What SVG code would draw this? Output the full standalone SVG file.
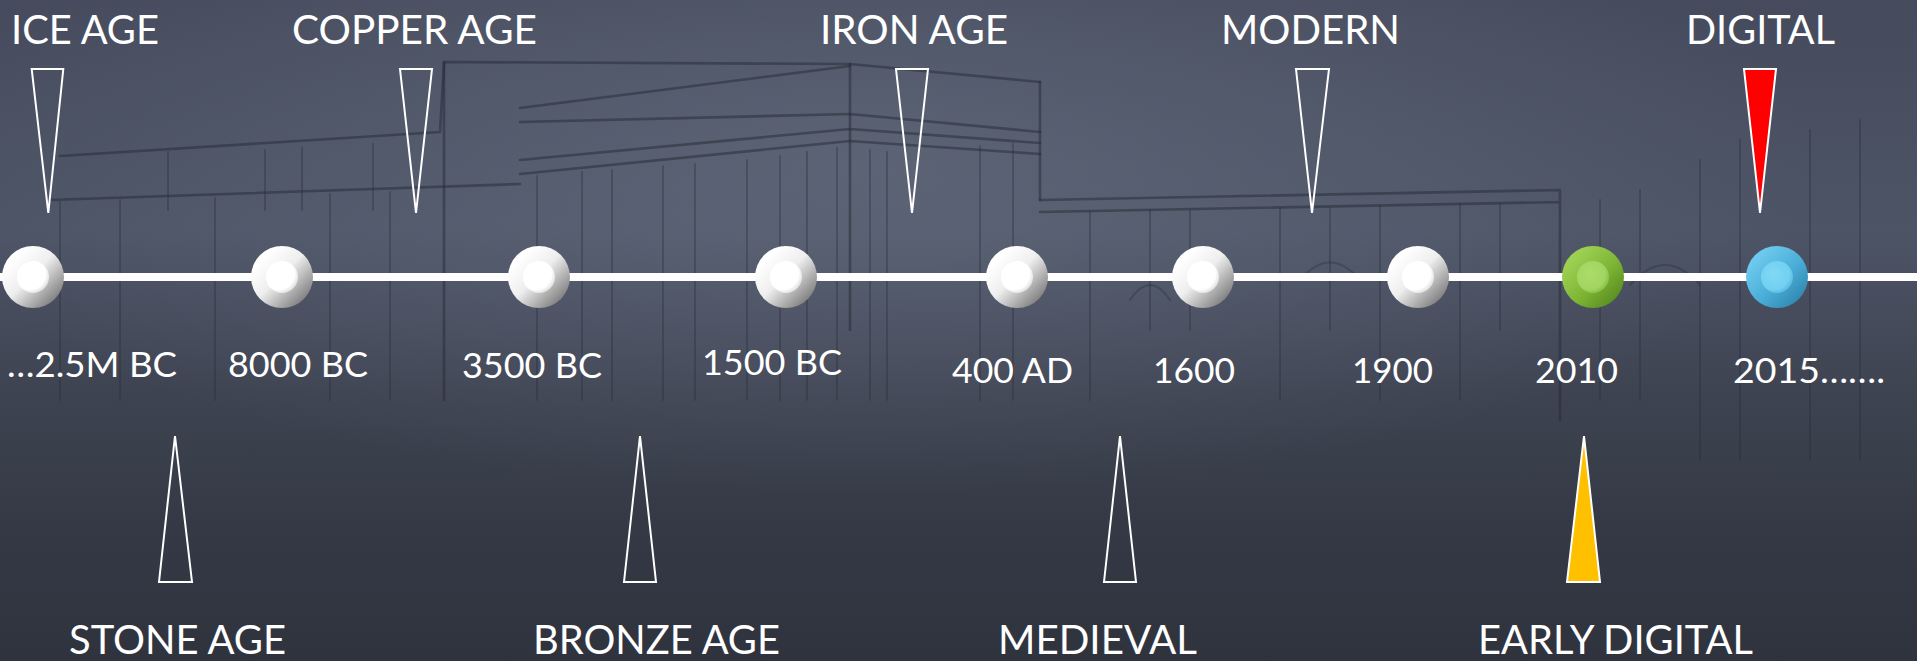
<svg xmlns="http://www.w3.org/2000/svg" width="1917" height="661" viewBox="0 0 1917 661">
<defs>
<style>
.lbl{font-family:Lato,"Open Sans","Liberation Sans",sans-serif;fill:#ffffff}
.era{font-size:40.5px}
.yr{font-size:35px}
.tri{fill:none;stroke:#ffffff;stroke-width:2;stroke-linejoin:miter}
.sk{fill:none;stroke:#252934;stroke-width:2.6;stroke-opacity:0.5;stroke-linecap:round;stroke-linejoin:round}
.skl{fill:none;stroke:#252934;stroke-width:2;stroke-opacity:0.33;stroke-linecap:round}
</style>
<linearGradient id="bg" x1="0" y1="0" x2="0" y2="1">
<stop offset="0" stop-color="#454b5c"/>
<stop offset="0.35" stop-color="#4d5466"/>
<stop offset="0.6" stop-color="#3e4351"/>
<stop offset="0.8" stop-color="#343945"/>
<stop offset="1" stop-color="#2f333e"/>
</linearGradient>
<radialGradient id="glow" cx="0.45" cy="0.25" r="0.5">
<stop offset="0" stop-color="#6d7588" stop-opacity="0.5"/>
<stop offset="1" stop-color="#6d7588" stop-opacity="0"/>
</radialGradient>
<linearGradient id="ringW" x1="0.25" y1="0.15" x2="0.95" y2="0.85">
<stop offset="0" stop-color="#ffffff"/>
<stop offset="0.4" stop-color="#eeeeee"/>
<stop offset="1" stop-color="#767676"/>
</linearGradient>
<radialGradient id="innW" cx="0.4" cy="0.4" r="0.65">
<stop offset="0" stop-color="#ffffff"/>
<stop offset="0.75" stop-color="#ffffff"/>
<stop offset="1" stop-color="#dcdcdc"/>
</radialGradient>
<linearGradient id="ringG" x1="0.25" y1="0.15" x2="0.95" y2="0.85">
<stop offset="0" stop-color="#9ccf52"/>
<stop offset="0.5" stop-color="#7fb636"/>
<stop offset="1" stop-color="#588a20"/>
</linearGradient>
<radialGradient id="innG" cx="0.4" cy="0.4" r="0.65">
<stop offset="0" stop-color="#acdc6c"/>
<stop offset="0.75" stop-color="#a2d460"/>
<stop offset="1" stop-color="#86bb45"/>
</radialGradient>
<linearGradient id="ringB" x1="0.25" y1="0.15" x2="0.95" y2="0.85">
<stop offset="0" stop-color="#6cc8ec"/>
<stop offset="0.5" stop-color="#4aaed8"/>
<stop offset="1" stop-color="#2f85ad"/>
</linearGradient>
<radialGradient id="innB" cx="0.4" cy="0.4" r="0.65">
<stop offset="0" stop-color="#80d8f6"/>
<stop offset="0.75" stop-color="#72d0f0"/>
<stop offset="1" stop-color="#58b6de"/>
</radialGradient>
</defs>

<g id="background">
<rect x="0" y="0" width="1917" height="661" fill="url(#bg)"/>
<rect x="0" y="0" width="1917" height="661" fill="url(#glow)"/>
<path class="sk" d="M60 156 L440 132 M50 200 L520 184 M440 132 L444 62 L850 64 L1040 82 M520 108 L850 66 M520 122 L850 114 L1040 132 M520 160 L850 129 L1040 143 M520 174 L850 141 L1040 154"/>
<path class="sk" d="M444 62 L444 400 M850 64 L850 330 M1040 82 L1040 200"/>
<path class="skl" d="M168 152 L168 210 M265 150 L265 210 M302 148 L302 210 M373 144 L373 210"/>
<path class="skl" d="M537 176 L537 400 M582 172 L582 400 M612 170 L612 400 M663 166 L663 400 M695 164 L695 400 M747 160 L747 400 M780 156 L780 400 M807 152 L807 400 M837 148 L837 400 M870 150 L870 400 M887 152 L887 400 M980 146 L980 400 M1013 144 L1013 400"/>
<path class="skl" d="M60 202 L60 400 M120 200 L120 400 M215 198 L215 400 M330 194 L330 400 M390 192 L390 400"/>
<path class="sk" d="M1040 200 L1560 190 M1040 212 L1560 202 M1560 190 L1560 420"/>
<path class="skl" d="M1090 212 L1090 400 M1150 210 L1150 330 M1190 210 L1190 330 M1280 208 L1280 400 M1330 208 L1330 330 M1380 206 L1380 400 M1460 204 L1460 400 M1500 204 L1500 330"/>
<path class="skl" d="M1130 300 Q1150 270 1170 300 M1300 280 Q1330 245 1360 280 M1630 285 Q1665 245 1700 285"/>
<path class="skl" d="M1700 160 L1700 460 M1740 140 L1740 460 M1810 130 L1810 460 M1860 120 L1860 460 M1600 200 L1600 400 M1640 190 L1640 400"/>
</g>

<g id="connectors">
<rect x="0" y="273" width="1917" height="8" fill="#ffffff"/>
</g>

<g id="node-2-5m-bc"><circle cx="33" cy="277" r="31" fill="url(#ringW)"/><circle cx="33" cy="277" r="16" fill="url(#innW)"/></g>
<g id="node-8000-bc"><circle cx="282" cy="277" r="31" fill="url(#ringW)"/><circle cx="282" cy="277" r="16" fill="url(#innW)"/></g>
<g id="node-3500-bc"><circle cx="539" cy="277" r="31" fill="url(#ringW)"/><circle cx="539" cy="277" r="16" fill="url(#innW)"/></g>
<g id="node-1500-bc"><circle cx="786" cy="277" r="31" fill="url(#ringW)"/><circle cx="786" cy="277" r="16" fill="url(#innW)"/></g>
<g id="node-400-ad"><circle cx="1017" cy="277" r="31" fill="url(#ringW)"/><circle cx="1017" cy="277" r="16" fill="url(#innW)"/></g>
<g id="node-1600"><circle cx="1203" cy="277" r="31" fill="url(#ringW)"/><circle cx="1203" cy="277" r="16" fill="url(#innW)"/></g>
<g id="node-1900"><circle cx="1418" cy="277" r="31" fill="url(#ringW)"/><circle cx="1418" cy="277" r="16" fill="url(#innW)"/></g>
<g id="node-2010"><circle cx="1593" cy="277" r="31" fill="url(#ringG)"/><circle cx="1593" cy="277" r="16" fill="url(#innG)"/></g>
<g id="node-2015"><circle cx="1777" cy="277" r="31" fill="url(#ringB)"/><circle cx="1777" cy="277" r="16" fill="url(#innB)"/></g>

<g id="year-labels" class="lbl yr">
<text x="7" y="377" textLength="170" lengthAdjust="spacingAndGlyphs">…2.5M BC</text>
<text x="228" y="377" textLength="140" lengthAdjust="spacingAndGlyphs">8000 BC</text>
<text x="462" y="378" textLength="140" lengthAdjust="spacingAndGlyphs">3500 BC</text>
<text x="702" y="375" textLength="140" lengthAdjust="spacingAndGlyphs">1500 BC</text>
<text x="952" y="383" textLength="121" lengthAdjust="spacingAndGlyphs">400 AD</text>
<text x="1153" y="383" textLength="82" lengthAdjust="spacingAndGlyphs">1600</text>
<text x="1352" y="383" textLength="81" lengthAdjust="spacingAndGlyphs">1900</text>
<text x="1535" y="383" textLength="83" lengthAdjust="spacingAndGlyphs">2010</text>
<text x="1733" y="383" textLength="152" lengthAdjust="spacingAndGlyphs">2015…….</text>
</g>

<g id="era-ice-age">
<text class="lbl era" x="11" y="44" textLength="148" lengthAdjust="spacingAndGlyphs">ICE AGE</text>
<polygon class="tri" points="31.7,69 63.3,69 48.3,213"/>
</g>
<g id="era-copper-age">
<text class="lbl era" x="292" y="44" textLength="245" lengthAdjust="spacingAndGlyphs">COPPER AGE</text>
<polygon class="tri" points="400,69 432,69 416,213"/>
</g>
<g id="era-iron-age">
<text class="lbl era" x="820" y="44" textLength="188" lengthAdjust="spacingAndGlyphs">IRON AGE</text>
<polygon class="tri" points="896,69 928,69 912,213"/>
</g>
<g id="era-modern">
<text class="lbl era" x="1221" y="44" textLength="179" lengthAdjust="spacingAndGlyphs">MODERN</text>
<polygon class="tri" points="1296,69 1329,69 1312,213"/>
</g>
<g id="era-digital">
<text class="lbl era" x="1686" y="44" textLength="149" lengthAdjust="spacingAndGlyphs">DIGITAL</text>
<polygon points="1744,69 1776,69 1760,213" fill="#ff0000" stroke="#ffffff" stroke-width="2"/>
</g>
<g id="era-stone-age">
<text class="lbl era" x="69" y="654" textLength="217" lengthAdjust="spacingAndGlyphs">STONE AGE</text>
<polygon class="tri" points="175,436 192,582 159,582"/>
</g>
<g id="era-bronze-age">
<text class="lbl era" x="533" y="654" textLength="247" lengthAdjust="spacingAndGlyphs">BRONZE AGE</text>
<polygon class="tri" points="640,436 656,582 624,582"/>
</g>
<g id="era-medieval">
<text class="lbl era" x="998" y="654" textLength="199" lengthAdjust="spacingAndGlyphs">MEDIEVAL</text>
<polygon class="tri" points="1120,436 1136,582 1104,582"/>
</g>
<g id="era-early-digital">
<text class="lbl era" x="1478" y="654" textLength="275" lengthAdjust="spacingAndGlyphs">EARLY DIGITAL</text>
<polygon points="1584,436 1600,582 1567,582" fill="#ffc000" stroke="#ffffff" stroke-width="2"/>
</g>
</svg>
